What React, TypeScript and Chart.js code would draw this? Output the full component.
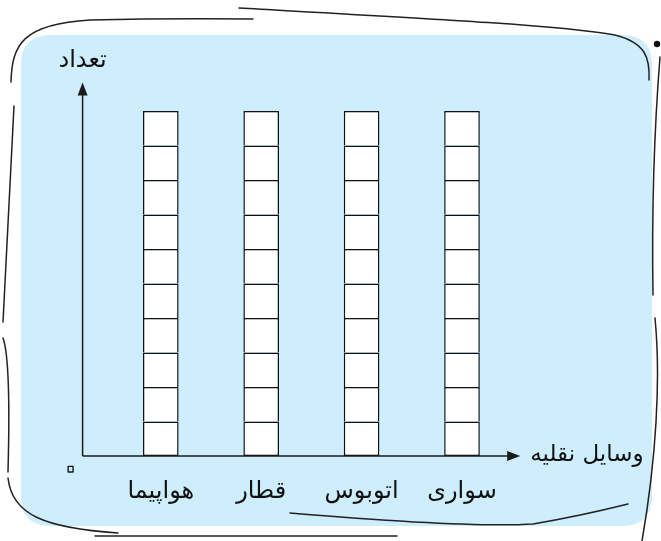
import React, { useEffect, useRef } from "react";
import { Chart, registerables } from "chart.js";

Chart.register(...registerables);

const categories = ["هواپیما", "قطار", "اتوبوس", "سواری"];
const counts = [10, 10, 10, 10];
const zeroLabel = "۰";
const xTitle = "وسایل نقلیه";
const yTitle = "تعداد";

const FONT = '"DejaVu Sans", "Noto Sans", sans-serif';
const BG = "#cfeefd";
const INK = "#1a1a1a";

function roundRect(ctx: CanvasRenderingContext2D, x: number, y: number, w: number, h: number, r: number) {
  ctx.beginPath();
  ctx.moveTo(x + r, y);
  ctx.lineTo(x + w - r, y);
  ctx.quadraticCurveTo(x + w, y, x + w, y + r);
  ctx.lineTo(x + w, y + h - r);
  ctx.quadraticCurveTo(x + w, y + h, x + w - r, y + h);
  ctx.lineTo(x + r, y + h);
  ctx.quadraticCurveTo(x, y + h, x, y + h - r);
  ctx.lineTo(x, y + r);
  ctx.quadraticCurveTo(x, y, x + r, y);
  ctx.closePath();
}

const decorPlugin = {
  id: "decor",
  beforeDraw(chart: any) {
    const ctx = chart.ctx as CanvasRenderingContext2D;
    ctx.save();
    ctx.fillStyle = "#ffffff";
    ctx.fillRect(0, 0, chart.width, chart.height);
    ctx.fillStyle = BG;
    roundRect(ctx, 21, 35, 631, 491, 30);
    ctx.fill();
    ctx.restore();
  },
  afterDatasetsDraw(chart: any) {
    const ctx = chart.ctx as CanvasRenderingContext2D;
    const area = chart.chartArea;
    const xs = chart.scales.x;
    const ys = chart.scales.y;
    const y0 = ys.getPixelForValue(0);
    const axisX = area.left - 28;
    const xTip = area.right + 8;
    const yTip = ys.getPixelForValue(ys.max) - 28.5;

    ctx.save();
    ctx.strokeStyle = INK;
    ctx.fillStyle = INK;
    ctx.lineWidth = 1.5;
    // x axis
    ctx.beginPath();
    ctx.moveTo(axisX, y0);
    ctx.lineTo(xTip - 12, y0);
    ctx.stroke();
    ctx.beginPath();
    ctx.moveTo(xTip, y0);
    ctx.lineTo(xTip - 13, y0 - 5);
    ctx.lineTo(xTip - 13, y0 + 5);
    ctx.closePath();
    ctx.fill();
    // y axis
    ctx.beginPath();
    ctx.moveTo(axisX, y0);
    ctx.lineTo(axisX, yTip + 12);
    ctx.stroke();
    ctx.beginPath();
    ctx.moveTo(axisX, yTip);
    ctx.lineTo(axisX - 5, yTip + 13);
    ctx.lineTo(axisX + 5, yTip + 13);
    ctx.closePath();
    ctx.fill();

    // labels
    ctx.fillStyle = "#111";
    ctx.textBaseline = "middle";
    ctx.textAlign = "center";
    ctx.font = `24px ${FONT}`;
    categories.forEach((c, i) => {
      ctx.fillText(c, xs.getPixelForValue(i), y0 + 36);
    });
    ctx.font = `23px ${FONT}`;
    ctx.textAlign = "left";
    ctx.fillText(xTitle, xTip + 10, y0 - 1);
    ctx.textAlign = "center";
    ctx.font = `24px ${FONT}`;
    ctx.fillText(yTitle, axisX, yTip - 22);
    ctx.font = `46px ${FONT}`;
    ctx.lineWidth = 1.4;
    ctx.lineJoin = "round";
    ctx.strokeStyle = "#111";
    ctx.strokeText(zeroLabel, axisX - 12, y0 + 14);

    // sketch lines
    ctx.strokeStyle = "#222";
    ctx.lineWidth = 1.5;
    ctx.lineCap = "round";
    const path = (f: () => void) => {
      ctx.beginPath();
      f();
      ctx.stroke();
    };
    path(() => {
      ctx.moveTo(11, 82);
      ctx.bezierCurveTo(12, 45, 22, 24, 90, 20);
      ctx.quadraticCurveTo(170, 18, 253, 19);
    });
    path(() => {
      ctx.moveTo(239, 8);
      ctx.bezierCurveTo(400, 17, 560, 25, 615, 35);
      ctx.bezierCurveTo(646, 43, 650, 58, 649, 80);
    });
    path(() => {
      ctx.moveTo(660, 57);
      ctx.quadraticCurveTo(651, 170, 653, 295);
    });
    path(() => {
      ctx.moveTo(655, 318);
      ctx.bezierCurveTo(661, 380, 656, 460, 642, 541);
    });
    path(() => {
      ctx.moveTo(14, 106);
      ctx.lineTo(3, 322);
    });
    path(() => {
      ctx.moveTo(3, 338);
      ctx.quadraticCurveTo(11, 360, 8, 472);
    });
    path(() => {
      ctx.moveTo(8, 478);
      ctx.bezierCurveTo(12, 515, 45, 528, 118, 533);
    });
    path(() => {
      ctx.moveTo(95, 536);
      ctx.lineTo(397, 536);
    });
    path(() => {
      ctx.moveTo(290, 513);
      ctx.quadraticCurveTo(470, 528, 533, 524);
      ctx.quadraticCurveTo(580, 516, 628, 504);
    });
    ctx.fillStyle = "#111";
    ctx.beginPath();
    ctx.arc(657, 44, 3.2, 0, Math.PI * 2);
    ctx.fill();
    ctx.restore();
  },
};

export default function App() {
  const ref = useRef<HTMLCanvasElement | null>(null);
  useEffect(() => {
    document.body.style.margin = "0";
    const canvas = ref.current;
    if (!canvas) return;
    const cells = Math.max(...counts);
    const datasets = Array.from({ length: cells }, (_, i) => ({
      label: `cell${i + 1}`,
      data: counts.map((v) => (v > i ? 1 : 0)),
      backgroundColor: "#ffffff",
      borderColor: "#111111",
      borderWidth: { top: 1.5, left: 1.5, right: 1.5, bottom: i === 0 ? 1.5 : 0 },
      borderSkipped: false as const,
      barPercentage: 0.355,
      categoryPercentage: 1,
    }));
    const chart = new Chart(canvas, {
      type: "bar",
      data: { labels: categories, datasets },
      options: {
        responsive: false,
        animation: false,
        layout: { padding: { left: 110.6, right: 148.8, top: 111, bottom: 85 } },
        plugins: { legend: { display: false }, tooltip: { enabled: false } },
        scales: {
          x: { display: false, stacked: true },
          y: { display: false, stacked: true, min: 0, max: cells },
        },
      },
      plugins: [decorPlugin],
    });
    return () => chart.destroy();
  }, []);
  return (
    <div style={{ width: 661, height: 541 }}>
      <canvas ref={ref} width={661} height={541} style={{ display: "block" }} />
    </div>
  );
}
